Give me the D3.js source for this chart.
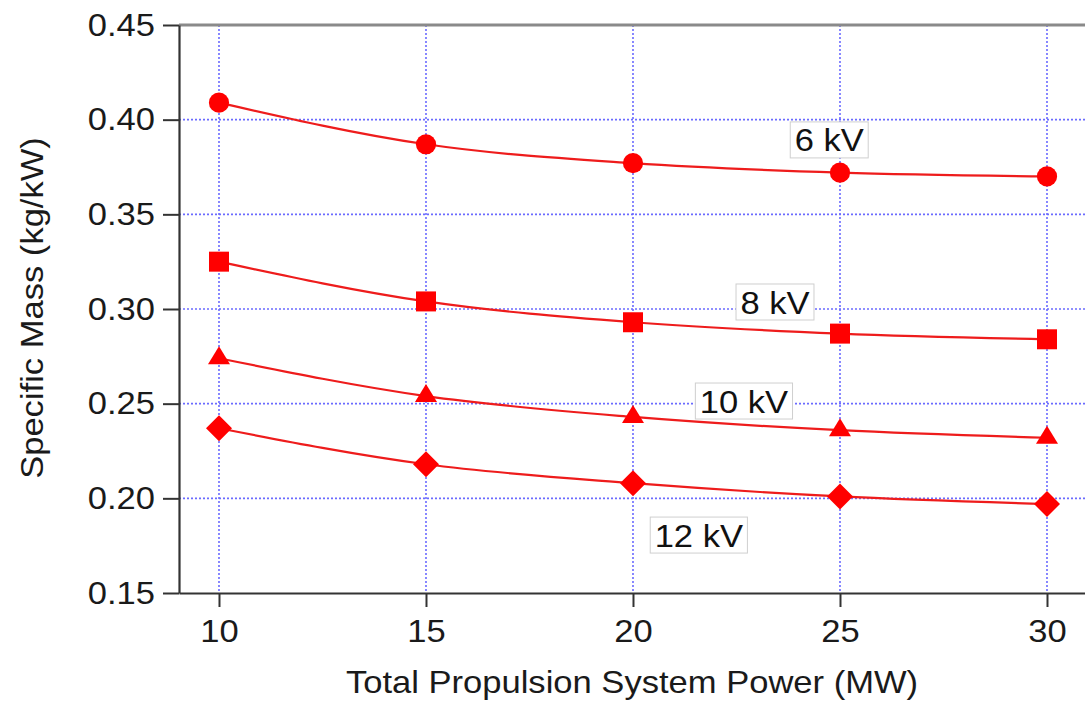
<!DOCTYPE html>
<html>
<head>
<meta charset="utf-8">
<script src="https://cdn.jsdelivr.net/npm/d3@7"></script>
<style>
  html, body { margin: 0; padding: 0; background: #fff; }
  svg { display: block; font-family: "Liberation Sans", Arial, Helvetica, sans-serif; }
</style>
</head>
<body>
<svg id="chart" width="1085" height="707"></svg>
<script>
// ---- data ----
const powerMW = [10, 15, 20, 25, 30];
const seriesNames = ["6 kV", "8 kV", "10 kV", "12 kV"];
const mass6kV  = [0.409, 0.387, 0.377, 0.372, 0.370];
const mass8kV  = [0.325, 0.304, 0.293, 0.287, 0.284];
const mass10kV = [0.274, 0.254, 0.243, 0.236, 0.232];
const mass12kV = [0.237, 0.218, 0.208, 0.201, 0.197];
const xTicks = [10, 15, 20, 25, 30];
const yTicks = [0.15, 0.20, 0.25, 0.30, 0.35, 0.40, 0.45];
const xTitle = "Total Propulsion System Power (MW)";
const yTitle = "Specific Mass (kg/kW)";

// ---- layout / style ----
const mLeft = 179, mRight = 1085, mTop = 25, mBottom = 593;
const fontSize = 32;
const stretch = 1.08;   // text in the reference is slightly wide
const labelPos = [ [24.74, 0.3893], [23.43, 0.3037], [22.68, 0.2514], [21.59, 0.1806] ];

// custom marker shapes
const wideTriangle = { draw(ctx, size) {
  const w = 22, h = 18;
  ctx.moveTo(0, -2 * h / 3); ctx.lineTo(w / 2, h / 3); ctx.lineTo(-w / 2, h / 3); ctx.closePath();
} };
const squareDiamond = { draw(ctx, size) {
  const r = 13;
  ctx.moveTo(0, -r); ctx.lineTo(r, 0); ctx.lineTo(0, r); ctx.lineTo(-r, 0); ctx.closePath();
} };
const symbols = [d3.symbolCircle, d3.symbolSquare, wideTriangle, squareDiamond];
const symSizes = [320, 400, 0, 0];

const svg = d3.select("#chart");
const x = d3.scaleLinear().domain([9.034, 30.918]).range([mLeft, mRight]);
const y = d3.scaleLinear().domain([0.15, 0.45]).range([mBottom, mTop]);

function widen(sel) {
  sel.each(function () {
    const t = d3.select(this);
    const tx = +t.attr("x") || 0, ty = +t.attr("y") || 0;
    t.attr("x", 0).attr("y", 0)
     .attr("transform", `translate(${tx},${ty}) scale(${stretch},1)`);
  });
}

// grid
const grid = svg.append("g").attr("stroke", "#6b6bff").attr("stroke-width", 1.6)
  .attr("stroke-dasharray", "2,2").attr("fill", "none");
grid.selectAll("line.v").data(xTicks).join("line").attr("class", "v")
  .attr("x1", d => x(d)).attr("x2", d => x(d)).attr("y1", mTop).attr("y2", mBottom);
grid.selectAll("line.h").data(yTicks.filter(v => v > 0.15 && v < 0.45)).join("line").attr("class", "h")
  .attr("x1", mLeft).attr("x2", mRight).attr("y1", d => y(d)).attr("y2", d => y(d));

// top border
svg.append("line").attr("x1", mLeft).attr("x2", mRight).attr("y1", mTop).attr("y2", mTop)
  .attr("stroke", "#8a8a8a").attr("stroke-width", 3);

// axes
const yAxis = d3.axisLeft(y).tickValues(yTicks).tickFormat(d3.format(".2f"))
  .tickSize(16).tickSizeOuter(0).tickPadding(8);
const gy = svg.append("g").attr("transform", `translate(${mLeft},0)`).call(yAxis);
const xAxis = d3.axisBottom(x).tickValues(xTicks).tickFormat(d3.format("d"))
  .tickSize(14).tickSizeOuter(0).tickPadding(12);
const gx = svg.append("g").attr("transform", `translate(0,${mBottom})`).call(xAxis);
[gx, gy].forEach(g => {
  g.select(".domain").attr("stroke", "#333").attr("stroke-width", 2.2);
  g.selectAll(".tick line").attr("stroke", "#333").attr("stroke-width", 2);
  g.selectAll(".tick text").attr("font-size", fontSize).attr("fill", "#1a1a1a")
    .attr("font-family", "'Liberation Sans', Arial, Helvetica, sans-serif")
    .call(widen);
});

// titles
svg.append("text").attr("x", 632).attr("y", 693)
  .attr("text-anchor", "middle").attr("font-size", fontSize).attr("fill", "#1a1a1a")
  .text(xTitle).call(widen);
svg.append("text")
  .attr("transform", `translate(43,${(mTop + mBottom) / 2 - 1}) rotate(-90) scale(${stretch},1)`)
  .attr("text-anchor", "middle").attr("font-size", fontSize).attr("fill", "#1a1a1a")
  .text(yTitle);

// series
const allSeries = [mass6kV, mass8kV, mass10kV, mass12kV];
const line = d3.line().x((d, i) => x(powerMW[i])).y(d => y(d)).curve(d3.curveMonotoneX);
const sg = svg.append("g");
allSeries.forEach((vals) => {
  sg.append("path").datum(vals).attr("d", line)
    .attr("fill", "none").attr("stroke", "#ee1c1c").attr("stroke-width", 2.2);
});
allSeries.forEach((vals, k) => {
  sg.selectAll(null).data(vals).join("path")
    .attr("transform", (d, i) => `translate(${x(powerMW[i])},${y(d)})`)
    .attr("d", d3.symbol(symbols[k], symSizes[k])())
    .attr("fill", "#ff0000");
});

// labels
const lg = svg.append("g");
seriesNames.forEach((name, k) => {
  const g = lg.append("g").attr("transform", `translate(${x(labelPos[k][0])},${y(labelPos[k][1])})`);
  const rect = g.append("rect");
  const t = g.append("text").attr("text-anchor", "middle").attr("dy", "0.36em")
    .attr("transform", `scale(${stretch},1)`)
    .attr("font-size", fontSize).attr("fill", "#111").text(name);
  const bb = t.node().getBBox();
  const w = bb.width * stretch;
  rect.attr("x", -w / 2 - 4).attr("y", -18).attr("width", w + 8).attr("height", 36)
    .attr("fill", "#fff").attr("stroke", "#cfcfcf").attr("stroke-width", 1);
});
</script>
</body>
</html>
